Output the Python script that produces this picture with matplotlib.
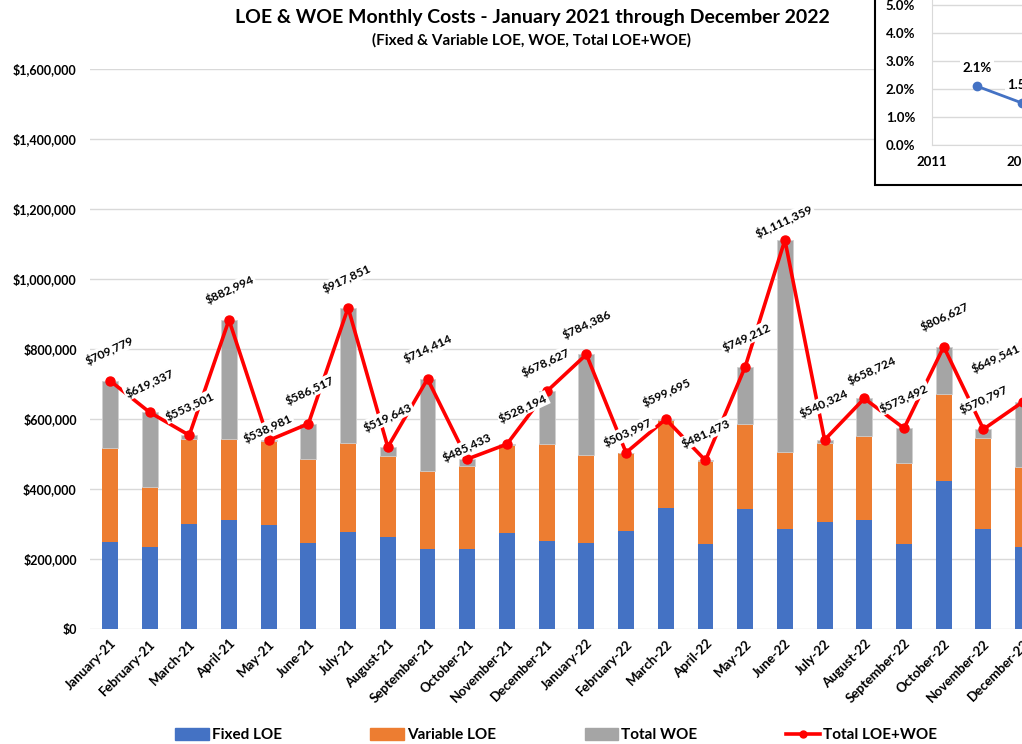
import numpy as np
import matplotlib
matplotlib.use("Agg")
import matplotlib.pyplot as plt
from matplotlib.patches import Patch, Rectangle
from matplotlib.lines import Line2D

plt.rcParams['font.family'] = ['Lato', 'DejaVu Sans']
plt.rcParams['font.weight'] = 'bold'

months = ["January-21", "February-21", "March-21", "April-21", "May-21", "June-21",
          "July-21", "August-21", "September-21", "October-21", "November-21", "December-21",
          "January-22", "February-22", "March-22", "April-22", "May-22", "June-22",
          "July-22", "August-22", "September-22", "October-22", "November-22", "December-22"]

fixed_loe = [249000, 234000, 301000, 312000, 298000, 245000, 278000, 262000, 228000, 228000,
             274000, 252000, 247000, 280000, 347000, 242000, 344000, 286000, 306000, 312000,
             242000, 423000, 286000, 235000]
total_loe = [518000, 405000, 542000, 544000, 537000, 485000, 532000, 495000, 451000, 467000,
             526000, 530000, 498000, 502000, 597000, 480000, 585000, 507000, 532000, 552000,
             474000, 671000, 545000, 464000]
total = [709779, 619337, 553501, 882994, 538981, 586517, 917851, 519643, 714414, 485433,
         528194, 678627, 784386, 503997, 599695, 481473, 749212, 1111359, 540324, 658724,
         573492, 806627, 570797, 649541]

variable_loe = [t - f for t, f in zip(total_loe, fixed_loe)]
total_woe = [t - l for t, l in zip(total, total_loe)]

# label offsets (pixels) from each point, hand placed like the original
label_off = [(0, 30), (0, 29), (1, 29), (1, 30), (-1, 12), (1, 33), (-1, 29), (0, 30),
             (0, 30), (0, 12), (16, 36), (-1, 29), (0, 30), (2, 20), (1, 27), (0, 27),
             (1, 29), (-1, 19), (-1, 36), (7, 28), (0, 30), (1, 30), (0, 30), (-27, 43)]

# inset chart
inset_years = [2012, 2013]
inset_vals = [2.1, 1.5]

blue = "#4472C4"
orange = "#ED7D31"
gray = "#A5A5A5"

fig = plt.figure(figsize=(10.22, 7.44), dpi=100)
ax = fig.add_axes([90 / 1022, 1 - 629 / 744, (1043 - 90) / 1022, (629 - 69) / 744])

x = np.arange(len(months))
w = 0.40
ax.bar(x, fixed_loe, w, color=blue, zorder=2)
ax.bar(x, variable_loe, w, bottom=fixed_loe, color=orange, zorder=2)
ax.bar(x, total_woe, w, bottom=total_loe, color=gray, edgecolor="#d0d0d0", lw=0.6, zorder=2)
ax.plot(x, total, color="red", lw=2.6, marker="o", ms=6.5, zorder=3)

for i, v in enumerate(total):
    ax.annotate(f"${v:,.0f}", (x[i], v), xytext=label_off[i], textcoords="offset pixels",
                ha="center", va="center", rotation=25, fontsize=8.7, fontweight="bold",
                bbox=dict(boxstyle="square,pad=0.1", fc="white", ec="none"), zorder=4)

ax.set_xlim(-0.5, len(months) - 0.5)
ax.set_ylim(0, 1600000)
ax.set_yticks(np.arange(0, 1600001, 200000))
ax.set_yticklabels([f"${t:,.0f}" for t in np.arange(0, 1600001, 200000)], fontsize=9)
ax.yaxis.grid(True, color="#d9d9d9", lw=1)
ax.set_axisbelow(True)
ax.tick_params(axis="y", length=0, pad=9.5)
ax.tick_params(axis="x", length=0, pad=6)
ax.set_xticks(x)
ax.set_xticklabels(months, rotation=45, ha="right", rotation_mode="anchor", fontsize=9.5)
for s in ax.spines.values():
    s.set_visible(False)

fig.text(532 / 1022, 1 - 18 / 744, "LOE & WOE Monthly Costs - January 2021 through December 2022",
         ha="center", va="center", fontsize=14, fontweight="bold")
fig.text(532 / 1022, 1 - 40 / 744, "(Fixed & Variable LOE, WOE, Total LOE+WOE)",
         ha="center", va="center", fontsize=11, fontweight="bold")

handles = [Patch(color=blue), Patch(color=orange), Patch(color=gray),
           Line2D([], [], color="red", lw=2.6, marker="o", ms=5)]
fig.legend(handles, ["Fixed LOE", "Variable LOE", "Total WOE", "Total LOE+WOE"],
           loc="center", bbox_to_anchor=(556 / 1022, 1 - 735 / 744), ncol=4, frameon=False,
           fontsize=11, handlelength=2.2, handleheight=0.9, handletextpad=0.2, columnspacing=5.8)

# overlapping inset chart box
box = Rectangle((875 / 1022, 1 - 185 / 744), 0.3, 0.4, transform=fig.transFigure,
                fc="white", ec="black", lw=1.5, zorder=5)
fig.add_artist(box)

ins = fig.add_axes([932 / 1022, 1 - 145 / 744, 180 / 1022, 168 / 744], zorder=6)
ins.plot(inset_years, inset_vals, color=blue, lw=2, marker="o", ms=6)
for xv, yv in zip(inset_years, inset_vals):
    ins.annotate(f"{yv:.1f}%", (xv, yv), xytext=(0, 18), textcoords="offset pixels",
                 ha="center", va="center", fontsize=9.5, fontweight="bold",
                 bbox=dict(boxstyle="square,pad=0.15", fc="white", ec="none"))
ins.set_xlim(2011, 2015)
ins.set_ylim(0, 6)
ins.set_yticks(np.arange(0, 6.1, 1))
ins.set_yticklabels([f"{t:.1f}%" for t in np.arange(0, 6.1, 1)], fontsize=9.5)
ins.set_xticks([2011, 2013, 2015])
ins.set_xticklabels(["2011", "2013", "2015"], fontsize=9.5)
ins.yaxis.grid(True, color="#d9d9d9", lw=1)
ins.set_axisbelow(True)
ins.tick_params(length=0, pad=12)
ins.tick_params(axis="x", pad=8)
for s in ["top", "right"]:
    ins.spines[s].set_visible(False)
for s in ["left", "bottom"]:
    ins.spines[s].set_color("#d9d9d9")

fig.savefig("out.png", dpi=100)
